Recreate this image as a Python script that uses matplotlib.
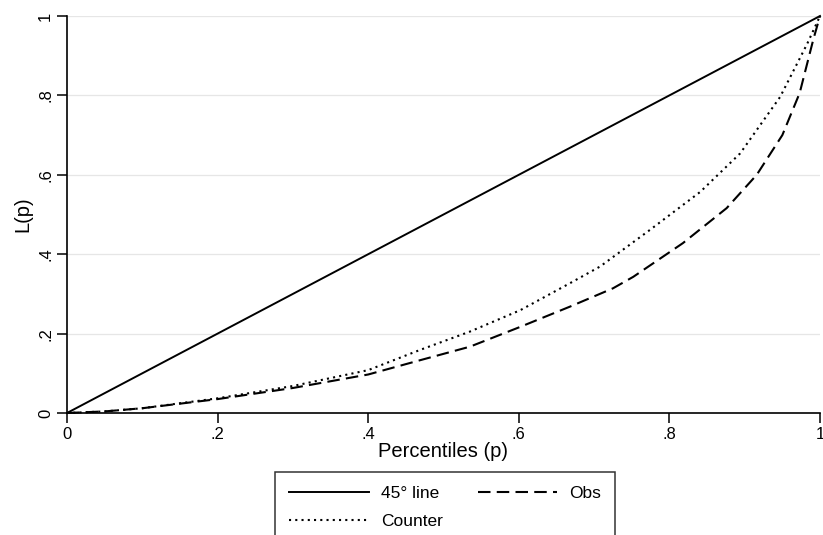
import matplotlib
matplotlib.use("Agg")
import matplotlib.pyplot as plt
import numpy as np

plt.rcParams['font.family'] = ['Liberation Sans', 'DejaVu Sans']

# points (percentile, L(p))
p_obs = [0, 0.05, 0.1, 0.2, 0.3, 0.4, 0.469, 0.535, 0.602, 0.668, 0.725, 0.752, 0.818, 0.876, 0.916, 0.95, 0.973, 0.991, 1]
obs = [0, 0.004, 0.012, 0.035, 0.063, 0.097, 0.133, 0.167, 0.217, 0.268, 0.314, 0.343, 0.428, 0.516, 0.6, 0.7, 0.806, 0.94, 1]
p_counter = [0, 0.05, 0.1, 0.2, 0.3, 0.4, 0.469, 0.535, 0.602, 0.668, 0.708, 0.774, 0.841, 0.894, 0.916, 0.947, 0.983, 1]
counter = [0, 0.004, 0.012, 0.037, 0.068, 0.108, 0.159, 0.205, 0.259, 0.327, 0.369, 0.461, 0.557, 0.654, 0.713, 0.796, 0.93, 1]
line45 = [0, 1]

ticks = [0, 0.2, 0.4, 0.6, 0.8, 1]
tick_labels = ["0", ".2", ".4", ".6", ".8", "1"]

fig = plt.figure(figsize=(8.23, 5.35), dpi=100)
ax = fig.add_axes([67 / 823, 1 - 413 / 535, 753 / 823, 397 / 535])

h1, = ax.plot(line45, line45, color="black", lw=1.4, label="45° line")
h2, = ax.plot(p_obs, obs, color="black", lw=1.5, dashes=(6, 3), label="Obs")
h3, = ax.plot(p_counter, counter, color="black", lw=1.5, dashes=(1, 2), label="Counter")

ax.set_xlim(0, 1)
ax.set_ylim(0, 1)
ax.set_xticks(ticks)
ax.set_xticklabels(tick_labels)
ax.set_yticks(ticks)
ax.set_yticklabels(tick_labels, rotation=90, va="center")
ax.tick_params(direction="out", length=7, width=1.1, labelsize=12, pad=3)

ax.grid(axis="y", color="#e6e6e6", lw=0.9)
ax.set_axisbelow(True)
for s in ["top", "right"]:
    ax.spines[s].set_visible(False)
for s in ["left", "bottom"]:
    ax.spines[s].set_linewidth(1.2)

ax.set_xlabel("Percentiles (p)", fontsize=14.5, labelpad=0)
ax.set_ylabel("L(p)", fontsize=14.5, labelpad=4)
for ln in (h1, h2, h3):
    ln.set_clip_on(False)

# legend filled column-wise: 45° line / Counter, then Obs
leg = fig.legend(handles=[h1, h3, h2], loc="upper left",
                 bbox_to_anchor=(275 / 823, 1 - 472 / 535), ncol=2,
                 fontsize=12.5, frameon=True, fancybox=False,
                 handlelength=4.6, columnspacing=2.0, borderpad=0.8,
                 labelspacing=0.75, handletextpad=0.7, borderaxespad=0)
leg.get_frame().set_edgecolor("black")
leg.get_frame().set_linewidth(1.1)

fig.savefig("out.png", dpi=100)
